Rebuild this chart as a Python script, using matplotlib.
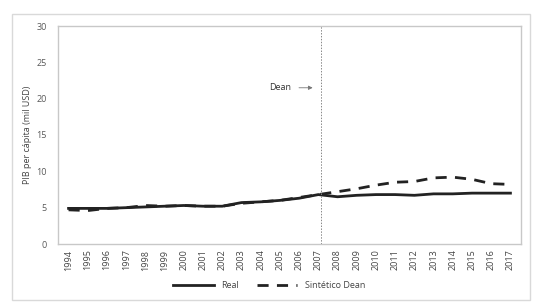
import matplotlib
matplotlib.use("Agg")
import matplotlib.pyplot as plt
from matplotlib.patches import Rectangle

years = [str(y) for y in range(1994, 2018)]
real = [4.9, 4.9, 4.9, 5.0, 5.1, 5.2, 5.3, 5.2, 5.2, 5.7, 5.8, 6.0, 6.3, 6.8,
        6.5, 6.7, 6.8, 6.8, 6.7, 6.9, 6.9, 7.0, 7.0, 7.0]
sintetico = [4.7, 4.6, 4.9, 5.0, 5.3, 5.2, 5.3, 5.2, 5.2, 5.6, 5.8, 6.0, 6.4, 6.8,
             7.2, 7.6, 8.1, 8.5, 8.6, 9.1, 9.2, 8.9, 8.3, 8.2]
yticks = [0, 5, 10, 15, 20, 25, 30]
event_year = "2007"

plt.rcParams['font.family'] = ['Open Sans', 'DejaVu Sans']
fig = plt.figure(figsize=(5.38, 3.07), dpi=100)
W, H = 538, 307
ax = fig.add_axes([58 / W, 1 - 244 / H, (521 - 58) / W, (244 - 26) / H])

x = list(range(len(years)))
ax.plot(x, real, color='#222222', lw=2.0, label='Real')
ax.plot(x, sintetico, color='#222222', lw=2.0, ls=(0, (4, 3)), label='Sintético Dean')

ax.set_xlim(-0.55, len(years) - 0.45)
ax.set_ylim(0, 30)
ax.set_yticks(yticks)
ax.set_xticks(x)
ax.set_xticklabels(years, rotation=90, fontsize=6.5, color='#444444')
ax.tick_params(axis='y', labelsize=6.5, colors='#595959', length=0, pad=8)
ax.tick_params(axis='x', length=0, pad=4)
for s in ax.spines.values():
    s.set_color('#c8c8c8')
    s.set_linewidth(1.0)
ax.set_ylabel('PIB per cápita (mil USD)', fontsize=6.5, color='#444444', labelpad=3)

ei = years.index(event_year)
ax.axvline(ei + 0.15, color='#888888', lw=0.7, ls=(0, (1.5, 1.5)))
ax.annotate('', xy=(ei - 0.15, 21.5), xytext=(ei - 1.15, 21.5),
            arrowprops=dict(arrowstyle='-|>', color='#777777', lw=0.6, mutation_scale=6))
ax.text(ei - 1.4, 21.5, 'Dean', fontsize=6.5, ha='right', va='center', color='#333333',
        family=['Liberation Sans Narrow', 'Open Sans', 'DejaVu Sans'])

leg = fig.legend(loc='center', bbox_to_anchor=(0.5, 1 - 286 / H), ncol=2, frameon=False,
                 fontsize=6.5, handlelength=4.5, columnspacing=2.0, handletextpad=0.8)
for t in leg.get_texts():
    t.set_color('#444444')

fig.patches.append(Rectangle((12 / W, 1 - 300 / H), (530 - 12) / W, (300 - 14) / H,
                             transform=fig.transFigure, fill=False, edgecolor='#d9d9d9', lw=1.0))
fig.savefig('out.png', dpi=100)
